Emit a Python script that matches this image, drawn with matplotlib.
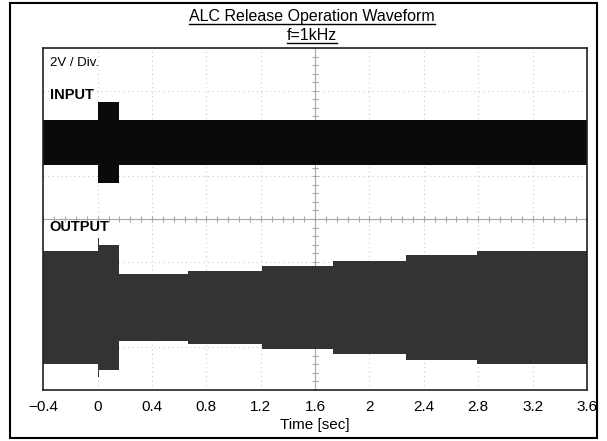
import numpy as np
import matplotlib.pyplot as plt
from matplotlib.lines import Line2D
from matplotlib.patches import Rectangle

plt.rcParams['font.family'] = ['Liberation Sans', 'DejaVu Sans']

# --- data (volts, 2V/div) ---
# input: 1kHz tone, short burst right at t=0
in_t = [-0.4, 0.0, 0.155, 3.6]
in_amp = [1.05, 1.89, 1.05, 1.05]
in_offset = 3.58

# output: ALC gain drops on the burst, then releases in steps
out_t = [-0.4, 0.0, 0.008, 0.155, 0.665, 1.206, 1.73, 2.27, 2.79, 3.6]
out_amp = [2.64, 3.27, 2.92, 1.56, 1.72, 1.95, 2.16, 2.44, 2.65, 2.65]
out_offset = -4.14

x_ticks = [-0.4, 0, 0.4, 0.8, 1.2, 1.6, 2, 2.4, 2.8, 3.2, 3.6]
x_labels = ['\u22120.4', '0', '0.4', '0.8', '1.2', '1.6', '2', '2.4', '2.8', '3.2', '3.6']

fig = plt.figure(figsize=(6.07, 4.41), dpi=100)
ax = fig.add_axes([0.0713, 0.1156, 0.8957, 0.7754])

# scope graticule
for xv in x_ticks:
    ax.axvline(xv, color='#cccccc', lw=0.8, ls=(0, (1, 3)), zorder=0)
for yv in np.arange(-8, 9, 2):
    ax.axhline(yv, color='#cccccc', lw=0.8, ls=(0, (1, 3)), zorder=0)
ax.axvline(1.6, color='#a8a8a8', lw=0.8, zorder=0)
ax.axhline(0, color='#a8a8a8', lw=0.8, zorder=0)
ax.plot(np.full(41, 1.6), np.linspace(-8, 8, 41), ls='none', marker='_',
        ms=4, mew=0.8, color='#a8a8a8', zorder=0)
ax.plot(np.linspace(-0.4, 3.6, 51), np.zeros(51), ls='none', marker='|',
        ms=4, mew=0.8, color='#a8a8a8', zorder=0)

in_t = np.array(in_t)
in_amp = np.array(in_amp)
out_t = np.array(out_t)
out_amp = np.array(out_amp)

ax.fill_between(in_t, in_offset - in_amp, in_offset + in_amp, step='post',
                color='#0a0a0a', lw=0, zorder=2)
ax.fill_between(out_t, out_offset - out_amp, out_offset + out_amp, step='post',
                color='#333333', lw=0, zorder=2)

ax.text(0.012, 0.955, '2V / Div.', transform=ax.transAxes, fontsize=9.5,
        ha='left', va='center')
ax.text(0.012, 0.862, 'INPUT', transform=ax.transAxes, fontsize=10.5,
        fontweight='bold', ha='left', va='center')
ax.text(0.012, 0.478, 'OUTPUT', transform=ax.transAxes, fontsize=10.5,
        fontweight='bold', ha='left', va='center')

ax.set_xlim(-0.4, 3.6)
ax.set_ylim(-8, 8)
ax.set_xticks(x_ticks)
ax.set_xticklabels(x_labels, fontsize=11)
ax.set_yticks([])
ax.tick_params(axis='x', length=0, pad=7)
ax.set_xlabel('Time [sec]', fontsize=11, labelpad=3)
for s in ax.spines.values():
    s.set_linewidth(1.2)
    s.set_color('#222222')

# underlined two-line title
t1 = fig.text(0.514, 1 - 17 / 441, 'ALC Release Operation Waveform',
              fontsize=11.5, ha='center', va='center')
t2 = fig.text(0.514, 1 - 36 / 441, 'f=1kHz', fontsize=11.5,
              ha='center', va='center')
fig.canvas.draw()
rend = fig.canvas.get_renderer()
for t in (t1, t2):
    bb = t.get_window_extent(rend).transformed(fig.transFigure.inverted())
    yl = bb.y0 + 0.002
    fig.add_artist(Line2D([bb.x0, bb.x1], [yl, yl], color='black', lw=1.0,
                          transform=fig.transFigure))

# outer frame
fig.add_artist(Rectangle((10 / 607, 3 / 441), 587 / 607, 435 / 441,
                         fill=False, ec='black', lw=1.5,
                         transform=fig.transFigure))

fig.savefig('out.png', dpi=100)
